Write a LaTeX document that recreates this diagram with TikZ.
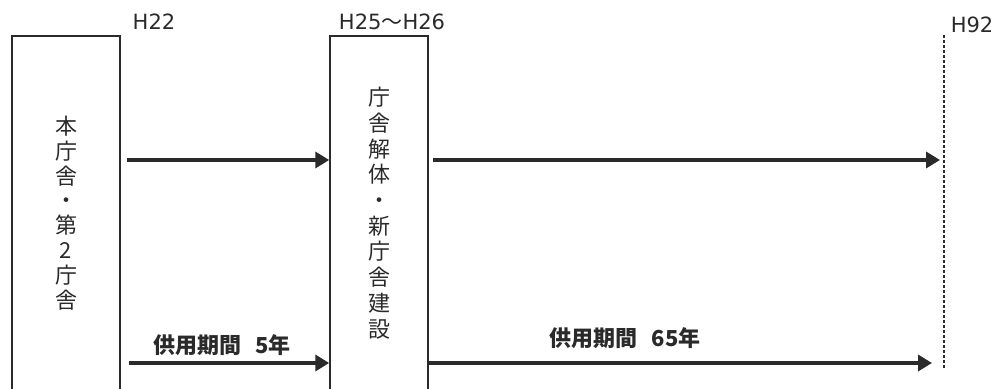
\documentclass[tikz,border=0pt]{standalone}
\usepackage{fontspec}
\setmainfont{Noto Sans CJK JP}
\newfontfamily\latinsans{DejaVu Sans}
\usetikzlibrary{arrows.meta}
\definecolor{ink}{HTML}{2a2a2a}
\tikzset{
  box/.style={draw=ink, line width=0.75pt, minimum height=177pt, inner sep=0pt, align=center, text=ink},
  arr/.style={draw=ink, line width=2pt, -{Triangle[length=7pt,width=8pt]}},
  yearlbl/.style={font=\latinsans\fontsize{10.5pt}{12pt}\selectfont, text=ink, inner sep=0pt},
  spanlbl/.style={font=\fontsize{11pt}{12pt}\selectfont\bfseries, text=ink, inner sep=0pt},
  vline/.style={draw=ink, line width=0.6pt, dash pattern=on 1.5pt off 1pt}
}
\begin{document}
\begin{tikzpicture}[x=0.5pt,y=-0.5pt]
\useasboundingbox (0,0) rectangle (1000,389);
\clip (0,0) rectangle (1000,389);
\node[box, minimum width=54pt, font=\fontsize{11pt}{12.4pt}\selectfont] (b1) at (66,213) {本\\庁\\舎\\・\\第\\2\\庁\\舎};
\node[box, minimum width=49pt, font=\fontsize{11pt}{12.85pt}\selectfont] (b2) at (379,213) {庁\\舎\\解\\体\\・\\新\\庁\\舎\\建\\設};
\coordinate (d1) at (944,35);
\coordinate (d2) at (944,370);
\draw[vline] (d1) -- (d2);
\node[yearlbl] (h22) at (154,22) {H22};
\node[yearlbl] (h25) at (392,22) {H25{\normalfont\fontsize{10.5pt}{12pt}\selectfont ～}H26};
\node[yearlbl] (h92) at (972,25) {H92};
\draw[arr] ([xshift=3pt]b1.east |- 0,160) -- (b2.west |- 0,160);
\draw[arr] ([xshift=2pt]b2.east |- 0,160) -- ([xshift=-2pt]d1 |- 0,160);
\draw[arr] ([xshift=4pt]b1.east |- 0,363) -- (b2.west |- 0,363);
\draw[arr] (b2.east |- 0,363) -- ([xshift=-6pt]d1 |- 0,363);
\node[spanlbl] (s1) at (222,345) {供用期間\hspace{0.65em}5年};
\node[spanlbl] (s2) at (625,338) {供用期間\hspace{0.65em}65年};
\end{tikzpicture}
\end{document}
